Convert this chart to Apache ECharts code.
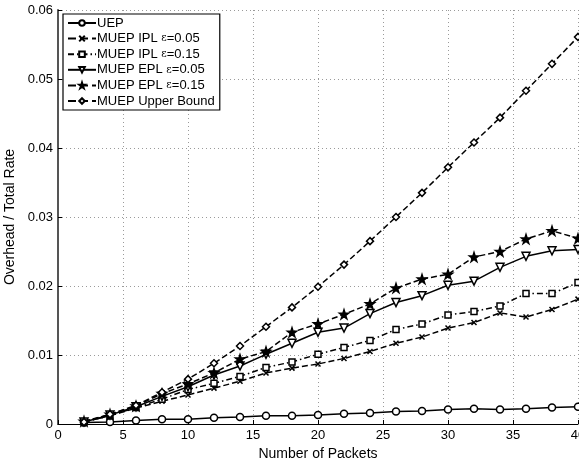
<!DOCTYPE html>
<html>
<head>
    <meta charset="utf-8">
    <title>Overhead / Total Rate</title>
    <script src="https://cdn.jsdelivr.net/npm/echarts@6/dist/echarts.min.js"></script>
</head>
<body style="margin:0;background:#fff">
<div id="main" style="width:579px;height:458px;"></div>
<script type="text/javascript">
    // data
    var packets = [2, 4, 6, 8, 10, 12, 14, 16, 18, 20, 22, 24, 26, 28, 30, 32, 34, 36, 38, 40];
    var uep = [0.0002, 0.0003, 0.0005, 0.0007, 0.0007, 0.0009, 0.0010, 0.0012, 0.0012, 0.0013,
        0.0015, 0.0016, 0.0018, 0.0019, 0.0021, 0.0022, 0.0021, 0.0022, 0.0024, 0.0025];
    var ipl005 = [0.0003, 0.0012, 0.0023, 0.0033, 0.0042, 0.0052, 0.0062, 0.0074, 0.0081, 0.0087,
        0.0095, 0.0105, 0.0117, 0.0126, 0.0139, 0.0147, 0.0161, 0.0155, 0.0166, 0.0181];
    var ipl015 = [0.0003, 0.0012, 0.0024, 0.0036, 0.0050, 0.0059, 0.0069, 0.0082, 0.0090, 0.0101,
        0.0111, 0.0121, 0.0137, 0.0145, 0.0158, 0.0163, 0.0171, 0.0189, 0.0189, 0.0205];
    var epl005 = [0.0003, 0.0013, 0.0025, 0.0040, 0.0054, 0.0071, 0.0084, 0.0101, 0.0117, 0.0133,
        0.0139, 0.0160, 0.0176, 0.0186, 0.0201, 0.0207, 0.0227, 0.0243, 0.0251, 0.0253];
    var epl015 = [0.0004, 0.0014, 0.0026, 0.0044, 0.0058, 0.0074, 0.0094, 0.0105, 0.0133, 0.0145,
        0.0159, 0.0174, 0.0197, 0.0210, 0.0217, 0.0242, 0.0250, 0.0268, 0.0280, 0.0269];
    var upper = [0.0003, 0.0014, 0.0027, 0.0046, 0.0065, 0.0088, 0.0113, 0.0141, 0.0169, 0.0199,
        0.0231, 0.0265, 0.0300, 0.0335, 0.0372, 0.0408, 0.0444, 0.0483, 0.0522, 0.0561];

    var font = 'Liberation Sans, Arial, Helvetica, sans-serif';

    function pairs(ys) {
        return packets.map(function (x, i) { return [x, ys[i]]; });
    }

    function line(name, ys, symbol, size, dash, fill) {
        return {
            name: name,
            type: 'line',
            data: pairs(ys),
            symbol: symbol,
            symbolSize: size,
            showAllSymbol: true,
            clip: false,
            lineStyle: { color: '#000', width: 1.5, type: dash },
            itemStyle: { color: fill, borderColor: '#000', borderWidth: 1.5 },
            emphasis: { disabled: true }
        };
    }

    var xMark = 'path://M0,0L10,10M10,0L0,10';
    var triDown = 'path://M0,0L10,0L5,9Z';
    var star = 'path://M5,0L6.2,3.6L10,3.6L6.9,5.9L8.1,9.5L5,7.3L1.9,9.5L3.1,5.9L0,3.6L3.8,3.6Z';
    var dashDot = [6, 3, 1.5, 3];

    var myChart = echarts.init(document.getElementById('main'));
    var option = {
        animation: false,
        textStyle: { fontFamily: font },
        grid: { left: 58, right: 1, top: 10, bottom: 34, outerBoundsMode: 'none' },
        legend: {
            orient: 'vertical',
            left: 63,
            top: 14,
            padding: [2, 5, 2, 4],
            itemWidth: 28,
            itemHeight: 7,
            itemGap: 1.6,
            backgroundColor: '#fff',
            borderColor: '#000',
            borderWidth: 1.2,
            borderRadius: 0,
            textStyle: {
                fontFamily: font, fontSize: 13, color: '#000', padding: [0, 0, 0, -4], lineHeight: 14,
                rich: { e: { fontFamily: 'DejaVu Serif, serif', fontSize: 10.5, color: '#000' } }
            },
            formatter: function (name) { return name.replace('ε', '{e|ε}'); },
            data: ['UEP', 'MUEP IPL ε=0.05', 'MUEP IPL ε=0.15', 'MUEP EPL ε=0.05', 'MUEP EPL ε=0.15', 'MUEP Upper Bound']
        },
        xAxis: {
            type: 'value',
            min: 0, max: 40, interval: 5,
            name: 'Number of Packets',
            nameLocation: 'middle',
            nameGap: 18,
            nameTextStyle: { fontSize: 14, color: '#000' },
            axisLine: { lineStyle: { color: '#000', width: 1 } },
            axisTick: { inside: true, length: 4, lineStyle: { color: '#000' } },
            axisLabel: { fontSize: 13, color: '#000', margin: 5 },
            splitLine: { lineStyle: { color: '#9a9a9a', type: [1, 3], width: 1 } }
        },
        yAxis: {
            type: 'value',
            min: 0, max: 0.06, interval: 0.01,
            name: 'Overhead / Total Rate',
            nameLocation: 'middle',
            nameGap: 36,
            nameTextStyle: { fontSize: 14, color: '#000' },
            axisLine: { show: true, lineStyle: { color: '#555', width: 2 } },
            axisTick: { show: true, inside: true, length: 4, lineStyle: { color: '#000' } },
            axisLabel: {
                fontSize: 13, color: '#000', margin: 5,
                formatter: function (v) { return v === 0 ? '0' : v.toFixed(2); }
            },
            splitLine: { lineStyle: { color: '#9a9a9a', type: [1, 3], width: 1 } }
        },
        series: [
            line('UEP', uep, 'circle', 7, 'solid', '#fff'),
            line('MUEP IPL ε=0.05', ipl005, xMark, 5, 'dashed', '#000'),
            line('MUEP IPL ε=0.15', ipl015, 'rect', 6, dashDot, '#fff'),
            line('MUEP EPL ε=0.05', epl005, triDown, 8, 'solid', '#fff'),
            line('MUEP EPL ε=0.15', epl015, star, 9, 'dashed', '#000'),
            line('MUEP Upper Bound', upper, 'diamond', 7, 'dashed', '#fff')
        ]
    };
    myChart.setOption(option);
</script>
</body>
</html>
